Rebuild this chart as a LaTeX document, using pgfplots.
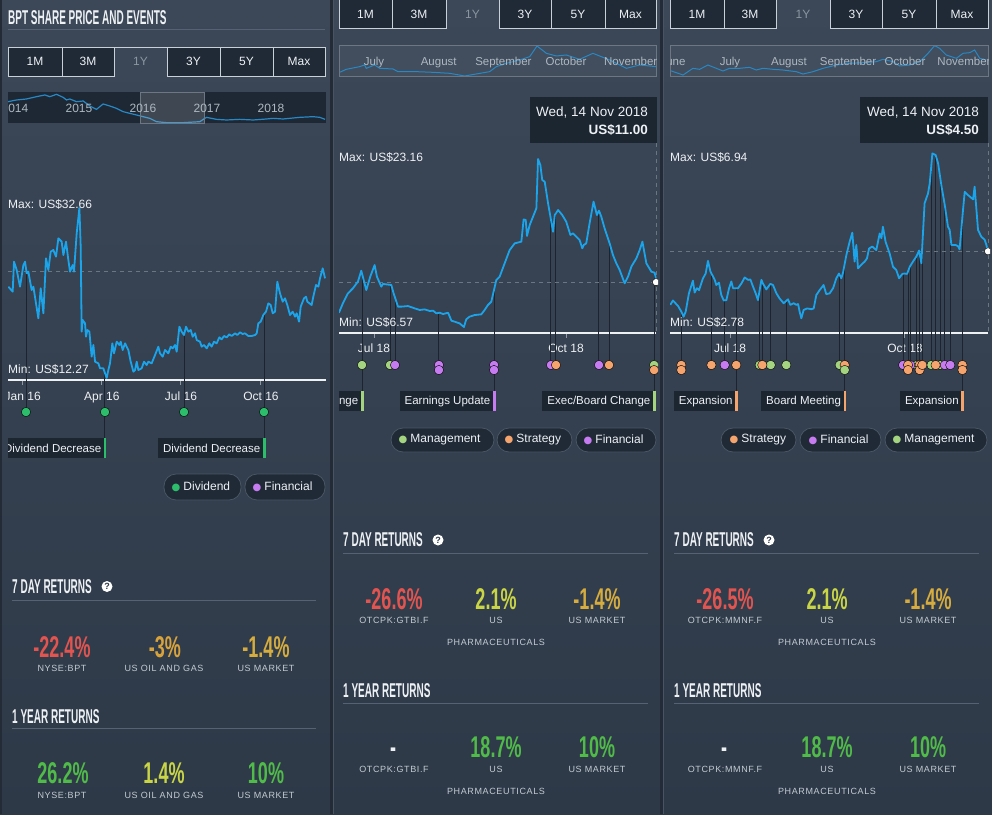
\documentclass[border=0pt]{standalone}
\usepackage{pgfplots}
\pgfplotsset{compat=1.18}
\usepackage{fontspec}
\setmainfont{Liberation Sans}
\newfontfamily\headfont{Liberation Sans}[FakeStretch=0.5]
\newfontfamily\numfont{Liberation Sans}[FakeStretch=0.6]
\newfontfamily\spfont{Liberation Sans}[LetterSpace=7]
\newfontfamily\sym{DejaVu Sans}

\definecolor{bgtop}{HTML}{3C4858}
\definecolor{bgbot}{HTML}{2D3947}
\definecolor{sep}{HTML}{222B36}
\definecolor{sepedge}{HTML}{485464}
\definecolor{btnfill}{HTML}{1F2A36}
\definecolor{btnline}{HTML}{C8D0D8}
\definecolor{navfill}{HTML}{1E2834}
\definecolor{navbox}{HTML}{6C7783}
\definecolor{priceblue}{HTML}{1BA4EA}
\definecolor{navblue}{HTML}{2788C4}
\definecolor{evline}{HTML}{1C242E}
\definecolor{boxfill}{HTML}{1C2631}
\definecolor{pillfill}{HTML}{1F2A36}
\definecolor{pillline}{HTML}{4A5664}
\definecolor{divgreen}{HTML}{2DBE6C}
\definecolor{finpurple}{HTML}{C67CF0}
\definecolor{strorange}{HTML}{F4A46C}
\definecolor{mgmtgreen}{HTML}{A4D480}
\definecolor{retred}{HTML}{E25450}
\definecolor{retorange}{HTML}{D9A33B}
\definecolor{retamber}{HTML}{D6AC3E}
\definecolor{retyellow}{HTML}{C9D545}
\definecolor{retgreen}{HTML}{50BB48}
\definecolor{labgrey}{HTML}{C3CBD3}
\definecolor{navtxt}{HTML}{AEB8C2}
\definecolor{txt}{HTML}{EEF1F4}
\definecolor{dimtxt}{HTML}{8C96A1}
\definecolor{rulec}{HTML}{566273}
\definecolor{tickgrey}{HTML}{8F99A4}
\definecolor{dashcol}{HTML}{6B7683}

\tikzset{
  txtnode/.style={text=txt, font=\fontsize{12}{14}\selectfont, inner sep=0pt},
  btn/.style={draw=btnline, fill=btnfill, line width=0.9pt},
  lbl/.style={fill=boxfill, text=txt, font=\fontsize{11.5}{13}\selectfont, inner xsep=5pt, inner ysep=0pt, minimum height=20pt, anchor=north east, xshift=1.5pt},
  pill/.style={draw=pillline, fill=pillfill, line width=0.8pt, rounded corners=12pt},
  head/.style={text=txt, font=\headfont\bfseries\fontsize{20}{20}\selectfont, inner sep=0pt, anchor=base west},
  big/.style={font=\numfont\bfseries\fontsize{30}{30}\selectfont, inner sep=0pt, anchor=base},
  small/.style={text=labgrey, font=\spfont\fontsize{9}{11}\selectfont, inner sep=0pt, anchor=base},
}
\pgfplotsset{
  navaxis/.style={scale only axis, anchor=south west, hide axis, clip=true},
  mainaxis/.style={scale only axis, anchor=south west, axis x line*=bottom, axis y line=none, clip=false,
    x axis line style={txt, line width=1.2pt}, xtick style={tickgrey, line width=1pt},
    major tick length=4.5pt, tick align=outside, ytick=\empty,
    xticklabel style={font=\fontsize{12}{14}\selectfont, text=txt, anchor=base, inner sep=0pt}},
  pline/.style={priceblue, line width=1.8pt, line join=round, mark=none},
  eline/.style={evline, line width=1pt, mark=none, unbounded coords=jump},
  dline/.style={dashcol, line width=1pt, dash pattern=on 4pt off 4pt, mark=none},
  evdot/.style={only marks, mark=*, mark size=4.7pt, mark options={draw=none, fill=#1}},
}

\begin{document}
\begin{tikzpicture}[x=1pt,y=-1pt]
\useasboundingbox (0,0) rectangle (992,814);
\shade[top color=bgtop, bottom color=bgbot] (0,0) rectangle (992,814);
\fill[sep] (0,0) rectangle (2,814);
\fill[sep] (330,0) rectangle (333,814);
\fill[sepedge] (333,0) rectangle (334,814);
\fill[sep] (660,0) rectangle (663,814);
\fill[sepedge] (663,0) rectangle (664,814);

% ================= PANEL 1 =================
\node[head] at (8,24) {BPT SHARE PRICE AND EVENTS};
\draw[rulec, line width=1pt] (8,29.5) -- (325,29.5);
\foreach \a/\b/\t in {8/62/1M,62/114/3M,167/220/3Y,220/273/5Y,273/325/Max}{
  \draw[btn] (\a,47) rectangle (\b,76);
  \node[txtnode] at ({(\a+\b)/2},61.5) {\t};}
\node[txtnode,text=dimtxt] at (140.5,61.5) {1Y};
\draw[btnline, line width=0.9pt] (114,47) -- (167,47);

\fill[navfill] (8,92) rectangle (326,123);
\begin{axis}[navaxis, at={(8pt,-123pt)}, width=318pt, height=31pt, xmin=2013.94, xmax=2018.91, ymin=9.16, ymax=95.96]
\addplot[navblue, line width=1.2pt] coordinates {
(2013.942,68.9)(2014.073,73.6)(2014.229,76.4)(2014.385,82.9)(2014.516,87.6)(2014.594,82.9)(2014.698,89.4)(2014.802,81.0)(2014.854,73.6)(2014.906,76.4)(2015.010,68.9)(2015.115,70.8)(2015.219,56.8)(2015.323,47.4)(2015.375,54.9)(2015.427,62.4)(2015.531,56.8)(2015.635,50.2)(2015.740,40.9)(2015.844,36.2)(2015.948,31.6)(2016.052,26.9)(2016.156,22.2)(2016.260,12.9)(2016.417,10.1)(2016.677,10.1)(2016.938,12.9)(2017.042,25.0)(2017.198,19.4)(2017.354,17.6)(2017.563,19.4)(2017.771,17.6)(2017.979,20.4)(2018.083,22.2)(2018.240,20.4)(2018.500,25.0)(2018.708,26.9)(2018.813,25.0)(2018.896,19.4)};
\end{axis}
\fill[white, opacity=0.15] (140,92) rectangle (204,123);
\draw[navbox, line width=0.9pt] (140,92) rectangle (204,123);
\begin{scope}
\clip (8,92) rectangle (326,123);
\foreach \x/\t in {15/2014,79/2015,143/2016,207/2017,271/2018}
  \node[txtnode, text=navtxt, anchor=base] at (\x,112) {\t};
\end{scope}

\begin{scope}
\clip (8,0) rectangle (326,470);
\begin{axis}[mainaxis, at={(8pt,-380pt)}, width=318pt, height=200pt, xmin=-16.9, xmax=348.8, ymin=12.02, ymax=36.02,
  xtick={0,91,182,274,366}, xticklabels={Jan 16,Apr 16,Jul 16,Oct 16,Jan 17}, xticklabel style={yshift=-16pt}]
\addplot[eline] coordinates {(3.8,25.4)(3.8,8.18)(3.8,nan)(94.6,12.8)(94.6,5.06)(94.6,nan)(185.5,17.42)(185.5,8.18)(185.5,nan)(277.5,20.0)(277.5,5.06)};
\addplot[dline] coordinates {(-16.9,25)(348.8,25)};
\addplot[pline] coordinates {
(-16.5,23.22)(-11.5,22.62)(-10.0,26.22)(-6.9,25.22)(-3.1,23.22)(0.8,25.82)(2.7,26.22)(4.6,24.82)(6.5,25.02)(10.3,22.82)(12.3,23.22)(18.0,19.42)(20.7,23.02)(23.8,20.02)(26.8,26.62)(29.5,25.22)(32.2,27.42)(35.3,27.62)(38.3,26.82)(41.0,29.02)(44.8,28.62)(46.8,27.02)(49.8,28.62)(52.5,26.42)(54.4,25.02)(57.5,25.82)(59.0,25.02)(62.1,29.62)(65.2,32.66)(66.7,28.02)(67.8,17.82)(69.0,19.22)(71.7,18.82)(72.8,17.22)(74.4,18.02)(76.7,17.82)(79.3,14.82)(81.3,16.22)(83.2,14.22)(87.0,14.02)(88.9,13.42)(92.8,13.42)(94.7,12.82)(96.6,12.27)(98.5,13.22)(100.4,14.02)(103.1,16.42)(105.0,15.22)(108.1,16.62)(111.2,16.22)(112.7,16.62)(115.0,15.62)(117.7,16.42)(119.6,16.02)(121.5,15.62)(124.2,14.22)(127.3,13.02)(129.2,13.22)(131.1,14.22)(133.0,13.22)(136.8,13.42)(139.5,14.22)(142.6,13.82)(144.5,14.22)(148.3,14.02)(152.2,15.02)(156.0,16.02)(157.9,15.22)(161.0,14.82)(163.7,15.62)(167.5,15.22)(170.2,16.02)(172.5,15.82)(175.2,16.22)(177.1,15.42)(180.2,18.42)(182.8,17.82)(185.5,17.42)(187.8,18.42)(190.5,17.82)(193.2,18.02)(195.5,17.22)(198.2,17.62)(200.1,16.82)(203.9,16.62)(205.8,16.02)(208.5,16.22)(211.6,15.82)(214.6,16.42)(217.3,16.02)(220.0,16.62)(223.1,16.42)(226.1,17.14)(228.8,16.90)(231.5,17.30)(234.6,17.14)(237.6,17.50)(240.3,17.30)(244.2,17.62)(246.8,17.42)(249.9,17.74)(252.9,17.54)(255.7,17.62)(259.5,17.30)(263.3,17.30)(267.2,17.42)(269.1,17.62)(271.0,18.82)(273.7,19.02)(276.7,19.82)(279.8,20.22)(282.5,21.22)(285.2,21.02)(287.5,20.02)(290.2,20.22)(292.8,23.82)(295.9,22.42)(299.0,21.42)(301.7,21.82)(304.3,21.02)(307.4,19.82)(310.5,20.22)(313.2,19.62)(315.1,20.02)(317.8,19.02)(319.7,20.82)(323.5,21.82)(325.8,22.02)(327.3,21.42)(332.3,21.02)(334.2,22.02)(337.3,23.42)(340.0,23.22)(341.9,24.22)(345.0,25.42)(347.7,24.22)};
\addplot[evdot=divgreen] coordinates {(3.8,8.18)(94.6,8.18)(185.5,8.18)(277.5,8.18)};
\node[lbl] (a1) at (axis cs:94.6,5.06) {Dividend Decrease};
\fill[divgreen] ([xshift=-2.5pt]a1.north east) rectangle (a1.south east);
\node[lbl] (a2) at (axis cs:277.5,5.06) {Dividend Decrease};
\fill[divgreen] ([xshift=-2.5pt]a2.north east) rectangle (a2.south east);
\end{axis}
\end{scope}
\node[txtnode, anchor=base west] at (8,208) {Max: US\$32.66};
\node[txtnode, anchor=base west] at (8,373) {Min: US\$12.27};

\draw[pill] (164,474) rectangle (241,500);
\node[txtnode, anchor=west] at (171.5,487) {\textcolor{divgreen}{\fontsize{10}{10}\sym ●}\hspace{3pt}Dividend};
\draw[pill] (245,474) rectangle (325,500);
\node[txtnode, anchor=west] at (252.5,487) {\textcolor{finpurple}{\fontsize{10}{10}\sym ●}\hspace{3pt}Financial};

\node[head] at (12,593) {7 DAY RETURNS};
\fill[white] (107,586.5) circle (5.5);
\node[text=bgbot, font=\bfseries\fontsize{9}{9}\selectfont, inner sep=0] at (107,586.5) {?};
\draw[rulec, line width=1pt] (12,600) -- (316,600);
\node[big, text=retred] at (62,657) {-22.4\%};
\node[big, text=retorange] at (165,657) {-3\%};
\node[big, text=retamber] at (266,657) {-1.4\%};
\node[small] at (62,671) {NYSE:BPT};
\node[small] at (164,671) {US OIL AND GAS};
\node[small] at (266,671) {US MARKET};
\node[head] at (12,723) {1 YEAR RETURNS};
\draw[rulec, line width=1pt] (12,728) -- (316,728);
\node[big, text=retgreen] at (63,783) {26.2\%};
\node[big, text=retyellow] at (164,783) {1.4\%};
\node[big, text=retgreen] at (266,783) {10\%};
\node[small] at (62,798.5) {NYSE:BPT};
\node[small] at (164,798.5) {US OIL AND GAS};
\node[small] at (266,798.5) {US MARKET};

% ================= PANEL 2 =================
\foreach \a/\b/\t in {339/392/1M,392/446/3M,499/551/3Y,551/605/5Y,605/656/Max}{
  \draw[btn] (\a,-2) rectangle (\b,28);
  \node[txtnode] at ({(\a+\b)/2},14.5) {\t};}
\node[txtnode,text=dimtxt] at (472.5,14.5) {1Y};

\fill[white, opacity=0.04] (339,45) rectangle (656,76);
\begin{axis}[navaxis, at={(339pt,-76pt)}, width=317pt, height=31pt, xmin=-16.77, xmax=135.12, ymin=6.57, ymax=23.71]
\addplot[navblue, line width=1pt] coordinates {
(-16.8,8.42)(-13.3,10.27)(-6.9,11.74)(-4.5,12.66)(-3.7,10.82)(0.3,12.66)(2.7,10.82)(9.1,10.45)(11.5,8.97)(20.3,8.97)(28.3,8.61)(36.3,8.05)(43.4,6.58)(49.0,7.69)(55.4,8.97)(58.6,11.74)(63.4,13.58)(69.8,15.43)(74.6,17.27)(78.1,23.17)(82.6,19.11)(87.4,17.64)(92.1,18.19)(98.5,15.79)(104.9,19.11)(108.1,17.64)(112.9,15.43)(120.9,10.82)(127.3,12.66)(135.1,11.74)};
\end{axis}
\draw[navbox, line width=0.9pt] (339,45) rectangle (656,76);
\begin{scope}
\clip (339,45) rectangle (656,76);
\foreach \x/\t in {374/July,438.7/August,503.4/September,566/October,630.7/November}
  \node[txtnode, text=navtxt, font=\fontsize{11.5}{13}\selectfont, anchor=base] at (\x,65) {\t};
\end{scope}

\fill[boxfill] (530,97) rectangle (657,143);
\node[txtnode, font=\fontsize{13.5}{15}\selectfont, anchor=base east] at (648,116) {Wed, 14 Nov 2018};
\node[txtnode, font=\bfseries\fontsize{13.5}{15}\selectfont, anchor=base east] at (648,134.5) {US\$11.00};

\begin{scope}
\clip (339,140) rectangle (658,420);
\begin{axis}[mainaxis, at={(339pt,-333pt)}, width=317pt, height=188pt, xmin=-16.77, xmax=135.12, ymin=5.977, ymax=24.544,
  xtick={0,92}, xticklabels={Jul 18,Oct 18}, xticklabel style={yshift=-15pt}]
\addplot[eline] coordinates {(-5.75,11.85)(-5.75,0.249)(-5.75,nan)(7.67,10.74)(7.67,2.817)(7.67,nan)(10.06,9.48)(10.06,2.817)(10.06,nan)(31.1,7.95)(31.1,2.32)(31.1,nan)(57.5,10.23)(57.5,0.249)(57.5,nan)(84.8,17.15)(84.8,2.817)(84.8,nan)(87.2,17.93)(87.2,2.817)(87.2,nan)(107.8,18.06)(107.8,2.817)(107.8,nan)(112.6,15.1)(112.6,2.817)(112.6,nan)(134.2,12.0)(134.2,0.249)};
\addplot[dline] coordinates {(-16.77,11.0)(135.12,11.0)};
\addplot[dline] coordinates {(135.12,24.74)(135.12,5.977)};
\addplot[pline] coordinates {
(-16.8,7.98)(-14.9,8.91)(-12.5,9.89)(-10.1,10.39)(-7.7,11.05)(-6.1,12.13)(-3.7,10.22)(-1.8,11.54)(0.3,12.69)(1.4,11.54)(3.5,10.55)(4.3,10.82)(8.3,10.72)(9.4,9.89)(11.5,8.58)(13.1,8.58)(16.3,8.64)(19.5,8.41)(21.9,8.25)(24.3,8.31)(26.7,8.15)(28.3,8.18)(29.9,7.92)(31.5,7.98)(33.1,7.85)(35.5,7.98)(37.1,7.19)(38.6,7.10)(41.0,6.93)(43.1,6.57)(44.2,7.33)(45.8,7.59)(48.2,7.75)(51.4,7.82)(53.0,8.25)(54.6,8.74)(56.2,9.07)(58.6,11.21)(60.2,11.54)(62.6,12.86)(65.0,14.17)(67.4,14.83)(70.6,15.00)(71.7,17.20)(72.7,17.14)(73.3,15.56)(74.6,16.64)(76.2,17.47)(77.8,18.29)(78.6,23.16)(79.7,22.57)(80.6,21.09)(81.8,20.92)(83.4,18.78)(85.8,15.98)(86.6,17.63)(88.2,18.12)(90.2,17.63)(92.1,16.97)(94.1,15.66)(95.3,15.82)(96.9,15.49)(98.5,15.16)(99.8,14.34)(100.5,14.67)(101.7,14.83)(103.3,16.81)(105.2,18.95)(106.8,17.63)(107.8,18.06)(108.9,17.47)(110.5,16.31)(112.9,14.83)(114.5,13.68)(116.1,12.86)(117.7,12.20)(120.1,10.88)(121.7,11.54)(123.3,12.53)(125.7,13.35)(127.3,14.17)(128.6,15.00)(130.5,12.86)(132.9,12.03)(134.5,11.93)(135.3,11.05)};
\addplot[only marks, mark=*, mark size=3.6pt, mark options={draw=none, fill=white}] coordinates {(135.12,11.0)};
\addplot[evdot=mgmtgreen] coordinates {(-5.75,2.817)(7.67,2.817)(134.2,2.817)};
\addplot[evdot=finpurple] coordinates {(10.06,2.817)(31.1,2.817)(31.1,2.32)(57.5,2.817)(57.5,2.32)(84.8,2.817)(107.8,2.817)};
\addplot[evdot=strorange] coordinates {(87.2,2.817)(112.6,2.817)(134.2,2.32)};
\node[lbl] (b1) at (axis cs:-5.75,0.249) {Exec/Board Change};
\fill[mgmtgreen] ([xshift=-2.5pt]b1.north east) rectangle (b1.south east);
\node[lbl] (b2) at (axis cs:57.5,0.249) {Earnings Update};
\fill[finpurple] ([xshift=-2.5pt]b2.north east) rectangle (b2.south east);
\node[lbl] (b3) at (axis cs:134.2,0.249) {Exec/Board Change};
\fill[mgmtgreen] ([xshift=-2.5pt]b3.north east) rectangle (b3.south east);
\end{axis}
\end{scope}
\node[txtnode, anchor=base west] at (339,161) {Max: US\$23.16};
\node[txtnode, anchor=base west] at (339,326) {Min: US\$6.57};

\draw[pill] (391,428) rectangle (494,452);
\node[txtnode, anchor=west] at (398.5,440) {\textcolor{mgmtgreen}{\fontsize{10}{10}\sym ●}\hspace{3pt}Management};
\draw[pill] (497,428) rectangle (572,452);
\node[txtnode, anchor=west] at (504.5,440) {\textcolor{strorange}{\fontsize{10}{10}\sym ●}\hspace{3pt}Strategy};
\draw[pill] (576,428) rectangle (656,452);
\node[txtnode, anchor=west] at (583.5,440) {\textcolor{finpurple}{\fontsize{10}{10}\sym ●}\hspace{3pt}Financial};

\node[head] at (343,546) {7 DAY RETURNS};
\fill[white] (438,540) circle (5.5);
\node[text=bgbot, font=\bfseries\fontsize{9}{9}\selectfont, inner sep=0] at (438,540) {?};
\draw[rulec, line width=1pt] (343,553) -- (648,553);
\node[big, text=retred] at (394,609) {-26.6\%};
\node[big, text=retyellow] at (496,609) {2.1\%};
\node[big, text=retamber] at (597,609) {-1.4\%};
\node[small] at (394,623.5) {OTCPK:GTBI.F};
\node[small] at (496,623.5) {US};
\node[small] at (597,623.5) {US MARKET};
\node[small] at (496,645) {PHARMACEUTICALS};
\node[head] at (343,697) {1 YEAR RETURNS};
\draw[rulec, line width=1pt] (343,703) -- (648,703);
\node[big, text=txt] at (393,757) {-};
\node[big, text=retgreen] at (496,757) {18.7\%};
\node[big, text=retgreen] at (597,757) {10\%};
\node[small] at (394,772.5) {OTCPK:GTBI.F};
\node[small] at (496,772.5) {US};
\node[small] at (597,772.5) {US MARKET};
\node[small] at (496,794) {PHARMACEUTICALS};

% ================= PANEL 3 =================
\foreach \a/\b/\t in {670/724/1M,724/776/3M,830/882/3Y,882/936/5Y,936/988/Max}{
  \draw[btn] (\a,-2) rectangle (\b,28);
  \node[txtnode] at ({(\a+\b)/2},14.5) {\t};}
\node[txtnode,text=dimtxt] at (803,14.5) {1Y};

\fill[white, opacity=0.04] (670,45) rectangle (988,76);
\begin{axis}[navaxis, at={(670pt,-76pt)}, width=318pt, height=31pt, xmin=-31.55, xmax=135.65, ymin=2.64, ymax=7.04]
\addplot[navblue, line width=1pt] coordinates {
(-31.4,3.40)(-28.2,3.11)(-24.7,2.78)(-19.5,3.73)(-16.0,3.59)(-11.6,4.20)(-7.2,3.73)(-3.7,3.35)(-0.2,3.73)(5.1,3.73)(10.3,3.87)(13.8,3.49)(17.3,3.73)(22.6,3.59)(27.9,3.49)(34.9,3.25)(38.4,2.92)(43.6,3.25)(48.9,3.73)(52.4,3.96)(55.9,4.20)(62.9,4.44)(69.9,4.53)(76.9,4.67)(80.4,5.01)(85.7,4.67)(89.2,4.06)(94.5,4.20)(99.7,4.67)(104.1,5.86)(107.6,6.95)(110.2,6.57)(113.7,5.62)(119.0,5.15)(122.5,5.86)(126.0,5.95)(128.6,6.33)(131.3,5.15)(134.8,4.91)};
\end{axis}
\draw[navbox, line width=0.9pt] (670,45) rectangle (988,76);
\begin{scope}
\clip (670,45) rectangle (988,76);
\foreach \x/\t in {673/June,730/July,789/August,848/September,905/October,964/November}
  \node[txtnode, text=navtxt, font=\fontsize{11.5}{13}\selectfont, anchor=base] at (\x,65) {\t};
\end{scope}

\fill[boxfill] (860,97) rectangle (988,143);
\node[txtnode, font=\fontsize{13.5}{15}\selectfont, anchor=base east] at (979,116) {Wed, 14 Nov 2018};
\node[txtnode, font=\bfseries\fontsize{13.5}{15}\selectfont, anchor=base east] at (979,134.5) {US\$4.50};

\begin{scope}
\clip (670,140) rectangle (990,420);
\begin{axis}[mainaxis, at={(670pt,-333pt)}, width=318pt, height=188pt, xmin=-31.55, xmax=135.65, ymin=2.410, ymax=7.151,
  xtick={0,92}, xticklabels={Jul 18,Oct 18}, xticklabel style={yshift=-15pt}]
\addplot[eline] coordinates {(-25.6,2.95)(-25.6,1.603)(-25.6,nan)(-9.8,3.92)(-9.8,1.603)(-9.8,nan)(-2.8,3.24)(-2.8,1.603)(-2.8,nan)(3.3,3.54)(3.3,0.948)(3.3,nan)(15.6,3.50)(15.6,1.603)(15.6,nan)(17.0,3.70)(17.0,1.603)(17.0,nan)(21.4,3.65)(21.4,1.603)(21.4,nan)(29.6,3.22)(29.6,1.603)(29.6,nan)(57.7,3.89)(57.7,1.603)(57.7,nan)(60.3,4.15)(60.3,0.948)(60.3,nan)(91.0,3.91)(91.0,1.603)(91.0,nan)(93.6,3.96)(93.6,1.603)(93.6,nan)(94.8,4.12)(94.8,1.603)(94.8,nan)(98.3,4.37)(98.3,1.603)(98.3,nan)(99.7,4.41)(99.7,1.603)(99.7,nan)(101.1,4.61)(101.1,1.603)(101.1,nan)(105.9,6.65)(105.9,1.603)(105.9,nan)(108.1,6.90)(108.1,1.603)(108.1,nan)(110.6,6.40)(110.6,1.603)(110.6,nan)(112.9,5.64)(112.9,1.603)(112.9,nan)(115.8,4.88)(115.8,1.603)(115.8,nan)(122.2,5.35)(122.2,0.948)};
\addplot[dline] coordinates {(-31.55,4.47)(135.65,4.47)};
\addplot[dline] coordinates {(135.65,7.20)(135.65,2.410)};
\addplot[pline] coordinates {
(-31.4,3.12)(-30.0,3.23)(-27.3,3.09)(-25.6,2.95)(-24.4,2.82)(-23.3,2.95)(-21.6,3.41)(-19.5,3.73)(-18.6,3.43)(-17.4,3.54)(-16.3,3.49)(-14.2,3.79)(-12.8,3.91)(-11.6,4.23)(-10.3,3.96)(-8.1,3.76)(-7.2,3.62)(-5.8,3.68)(-4.6,3.37)(-3.3,3.23)(-1.9,3.24)(-0.5,3.54)(0.7,3.71)(1.6,3.54)(4.2,3.54)(6.0,3.66)(7.7,3.81)(9.5,3.75)(10.7,3.76)(12.1,3.58)(13.5,3.41)(14.7,3.24)(16.5,3.75)(17.3,3.66)(19.1,3.51)(21.2,3.65)(22.6,3.62)(24.4,3.41)(26.1,3.28)(28.2,3.16)(30.5,3.26)(31.7,3.12)(33.5,3.16)(34.9,3.12)(35.8,3.14)(36.6,2.95)(37.5,2.78)(38.7,2.99)(40.5,3.03)(42.8,3.01)(44.0,3.03)(45.4,3.37)(47.1,3.49)(49.2,3.62)(50.6,3.39)(52.4,3.41)(54.2,3.54)(55.9,3.79)(57.3,3.91)(58.5,3.79)(59.4,3.93)(61.2,4.38)(62.9,4.71)(64.3,4.94)(65.5,4.21)(66.4,4.63)(67.3,4.04)(69.0,4.13)(70.8,4.21)(72.0,4.29)(73.1,4.54)(74.8,4.59)(76.9,4.50)(78.7,4.92)(79.6,4.80)(80.4,5.09)(81.8,4.71)(83.9,4.42)(85.7,4.08)(87.4,4.00)(88.9,3.79)(90.6,3.90)(91.8,3.91)(93.1,3.90)(94.5,4.08)(96.2,4.21)(98.0,4.34)(99.4,4.49)(100.6,4.17)(102.3,5.68)(104.1,5.93)(105.0,6.18)(106.4,6.94)(108.1,6.90)(109.4,6.69)(111.1,6.14)(112.9,5.64)(114.6,5.09)(115.5,5.01)(116.4,4.63)(118.6,4.63)(119.9,4.60)(120.7,4.52)(122.5,5.51)(123.4,5.97)(125.1,5.89)(127.8,5.78)(128.6,6.10)(130.4,5.01)(132.1,4.84)(133.9,4.76)(134.8,4.63)(135.6,4.47)};
\addplot[only marks, mark=*, mark size=3.6pt, mark options={draw=none, fill=white}] coordinates {(135.65,4.47)};
\addplot[evdot=mgmtgreen] coordinates {(15.6,1.603)(21.4,1.603)(29.6,1.603)(57.7,1.603)(98.3,1.603)(105.9,1.603)(110.6,1.603)};
\addplot[evdot=finpurple] coordinates {(-2.8,1.603)(91.0,1.603)(94.8,1.603)(112.9,1.603)(115.8,1.603)};
\addplot[evdot=strorange] coordinates {(-25.6,1.603)(-25.6,1.477)(-9.8,1.603)(3.3,1.603)(17.0,1.603)(60.3,1.603)(93.6,1.603)(93.6,1.477)(99.7,1.603)(99.7,1.477)(101.1,1.603)(108.1,1.603)(122.2,1.603)(122.2,1.477)};
\addplot[evdot=mgmtgreen] coordinates {(60.3,1.477)};
\node[lbl] (c1) at (axis cs:3.3,0.948) {Expansion};
\fill[strorange] ([xshift=-2.5pt]c1.north east) rectangle (c1.south east);
\node[lbl] (c2) at (axis cs:60.3,0.948) {Board Meeting};
\fill[strorange] ([xshift=-2.5pt]c2.north east) rectangle (c2.south east);
\node[lbl] (c3) at (axis cs:122.2,0.948) {Expansion};
\fill[strorange] ([xshift=-2.5pt]c3.north east) rectangle (c3.south east);
\end{axis}
\end{scope}
\node[txtnode, anchor=base west] at (670,161) {Max: US\$6.94};
\node[txtnode, anchor=base west] at (670,326) {Min: US\$2.78};

\draw[pill] (721,428) rectangle (796,452);
\node[txtnode, anchor=west] at (729.5,440) {\textcolor{strorange}{\fontsize{10}{10}\sym ●}\hspace{3pt}Strategy};
\draw[pill] (800,428) rectangle (881,452);
\node[txtnode, anchor=west] at (808.5,440) {\textcolor{finpurple}{\fontsize{10}{10}\sym ●}\hspace{3pt}Financial};
\draw[pill] (885,428) rectangle (987,452);
\node[txtnode, anchor=west] at (892.5,440) {\textcolor{mgmtgreen}{\fontsize{10}{10}\sym ●}\hspace{3pt}Management};

\node[head] at (674,546) {7 DAY RETURNS};
\fill[white] (769,540) circle (5.5);
\node[text=bgbot, font=\bfseries\fontsize{9}{9}\selectfont, inner sep=0] at (769,540) {?};
\draw[rulec, line width=1pt] (674,553) -- (979,553);
\node[big, text=retred] at (725,609) {-26.5\%};
\node[big, text=retyellow] at (827,609) {2.1\%};
\node[big, text=retamber] at (928,609) {-1.4\%};
\node[small] at (725,623.5) {OTCPK:MMNF.F};
\node[small] at (827,623.5) {US};
\node[small] at (928,623.5) {US MARKET};
\node[small] at (827,645) {PHARMACEUTICALS};
\node[head] at (674,697) {1 YEAR RETURNS};
\draw[rulec, line width=1pt] (674,703) -- (979,703);
\node[big, text=txt] at (724,757) {-};
\node[big, text=retgreen] at (827,757) {18.7\%};
\node[big, text=retgreen] at (928,757) {10\%};
\node[small] at (725,772.5) {OTCPK:MMNF.F};
\node[small] at (827,772.5) {US};
\node[small] at (928,772.5) {US MARKET};
\node[small] at (827,794) {PHARMACEUTICALS};
\end{tikzpicture}
\end{document}
